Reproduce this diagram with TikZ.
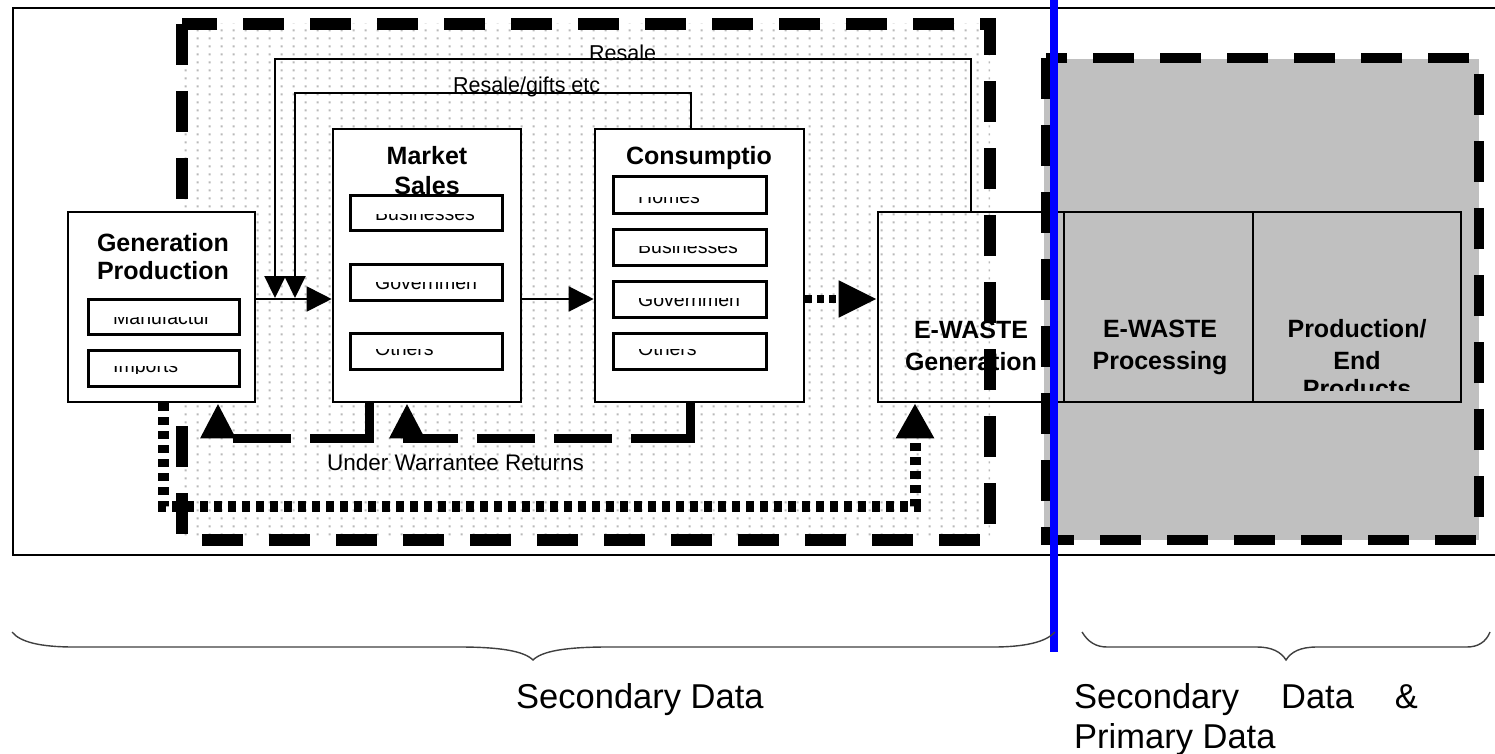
\documentclass[tikz,border=0pt]{standalone}
\usepackage{fontspec}
\setmainfont{Liberation Sans}
\usetikzlibrary{arrows.meta,patterns.meta}
\definecolor{graybg}{RGB}{192,192,192}
\tikzdeclarepattern{
  name=bgdots,
  type=uncolored,
  bounding box={(0pt,0pt) and (12pt,8pt)},
  tile size={(12pt,8pt)},
  code={\fill (5pt,3pt) rectangle (7.2pt,5.2pt);}
}
\begin{document}
\begin{tikzpicture}[x=1pt,y=-1pt,
  outerframe/.style={draw=black, line width=2.6pt},
  bigdash/.style={draw=black, line width=12pt, dash pattern=on 41pt off 26pt},
  box/.style={draw=black, line width=2.6pt, fill=white, inner sep=0pt},
  openbox/.style={draw=black, line width=2.6pt, inner sep=0pt},
  subbox/.style={draw=black, line width=3pt, fill=white, inner sep=0pt, minimum height=35pt},
  title/.style={font=\fontsize{25}{30}\selectfont\bfseries, inner sep=0pt, anchor=base},
  tinylbl/.style={font=\fontsize{19.5}{22}\selectfont, inner sep=0pt, anchor=base west},
  flowlabel/.style={font=\fontsize{21.5}{25}\selectfont, inner sep=0pt, anchor=base west},
  datalabel/.style={font=\fontsize{34.5}{40}\selectfont, inner sep=0pt, anchor=base west},
  thinconn/.style={draw=black, line width=1.8pt},
  dotconn/.style={draw=black, line width=8pt, dash pattern=on 7pt off 5pt},
  bigdotconn/.style={draw=black, line width=11pt, dash pattern=on 8pt off 6pt},
  dashconn/.style={draw=black, line width=9pt, dash pattern=on 94pt off 19pt on 58pt off 19pt on 58pt off 19pt on 58pt off 19pt},
  bracepath/.style={draw=black!75, line width=1.4pt},
]
\useasboundingbox (0,0) rectangle (1495,754);
\fill[white] (0,0) rectangle (1495,754);

% backgrounds
\path[pattern=bgdots, pattern color=gray!55] (182,24) rectangle (990,540);
\fill[graybg] (1044,59) rectangle (1479,540);
\draw[outerframe] (13,8) rectangle (1510,555);
\draw[bigdash] (182,24) -- (182,540) -- (990,540) -- (990,24) -- cycle;
\draw[bigdash, line width=10pt] (1046,58) -- (1046,540) -- (1479,540) -- (1479,58) -- cycle;

% main boxes
\node[box, minimum width=187pt, minimum height=190pt] (gen) at (161.5,307) {};
\node[box, minimum width=188pt, minimum height=273pt] (mkt) at (427,265.5) {};
\node[box, minimum width=209pt, minimum height=273pt] (con) at (699.5,265.5) {};
\node[openbox, minimum width=186pt, minimum height=190pt] (ewg) at (971,307) {};
\node[openbox, minimum width=189pt, minimum height=190pt] (proc) at (1158.5,307) {};
\node[openbox, minimum width=208pt, minimum height=190pt] (prod) at (1357,307) {};

% titles
\node[title] (tg1) at (163,251) {Generation};
\node[title] (tg2) at (163,279) {Production};
\node[title] (tm1) at (427,165) {Market};
\node[title] (tm2) at (427,194) {Sales};
\node[title] (tc1) at (699,165) {Consumptio};
\node[title] (te1) at (971,338) {E-WASTE};
\node[title] (te2) at (971,370) {Generation};
\node[title] (tp1) at (1160,337) {E-WASTE};
\node[title] (tp2) at (1160,369) {Processing};
\node[title] (tq1) at (1357,337) {Production/};
\node[title] (tq2) at (1357,369) {End};
\begin{scope}
\clip (1253,212) rectangle (1461,390);
\node[title] (tq3) at (1357,397) {Products};
\end{scope}

% sub boxes
\node[subbox, minimum width=151pt] (gs1) at (163.5,316.5) {};
\node[subbox, minimum width=151pt, minimum height=36pt] (gs2) at (163.5,368) {};
\node[subbox, minimum width=152pt] (ms1) at (426,212.5) {};
\node[subbox, minimum width=152pt, minimum height=36pt] (ms2) at (426,282) {};
\node[subbox, minimum width=152pt, minimum height=36pt] (ms3) at (426,351) {};
\node[subbox, minimum width=153pt, minimum height=36pt] (cs1) at (689.5,195) {};
\node[subbox, minimum width=153pt, minimum height=36pt] (cs2) at (689.5,247) {};
\node[subbox, minimum width=153pt, minimum height=36pt] (cs3) at (689.5,299) {};
\node[subbox, minimum width=153pt, minimum height=36pt] (cs4) at (689.5,351) {};

% clipped sub box labels
\begin{scope}\clip (90,317) rectangle (237,325);
\node[tinylbl] (lgs1) at (113,324) {Manufactur};\end{scope}
\begin{scope}\clip (90,366) rectangle (237,373);
\node[tinylbl] (lgs2) at (113,372) {Imports};\end{scope}
\begin{scope}\clip (352,214) rectangle (500,221);
\node[tinylbl] (lms1) at (375,220) {Businesses};\end{scope}
\begin{scope}\clip (352,282) rectangle (500,290);
\node[tinylbl] (lms2) at (375,289) {Governmen};\end{scope}
\begin{scope}\clip (352,349) rectangle (500,356);
\node[tinylbl] (lms3) at (375,355) {Others};\end{scope}
\begin{scope}\clip (615,197) rectangle (764,204);
\node[tinylbl] (lcs1) at (638,203) {Homes};\end{scope}
\begin{scope}\clip (615,246) rectangle (764,254);
\node[tinylbl] (lcs2) at (638,253) {Businesses};\end{scope}
\begin{scope}\clip (615,298) rectangle (764,307);
\node[tinylbl] (lcs3) at (638,306) {Governmen};\end{scope}
\begin{scope}\clip (615,349) rectangle (764,356);
\node[tinylbl] (lcs4) at (638,355) {Others};\end{scope}

% helper coordinates
\coordinate (yA) at (0,299);
\coordinate (r1) at (275,298);
\coordinate (r2) at (295,298);
\coordinate (xg) at (691,0);
\coordinate (xa) at (369,0);
\coordinate (xb) at (218,0);
\coordinate (xc) at (690,0);
\coordinate (xd) at (407,0);
\coordinate (xe) at (163,0);
\coordinate (xf) at (915,0);

% flow labels
\node[flowlabel] (lr) at (589,61) {Resale};
\node[flowlabel] (lrg) at (453,93) {Resale/gifts etc};
\node[flowlabel, font=\fontsize{22.5}{26}\selectfont] (luw) at (327,470) {Under Warrantee Returns};

% connectors
\draw[thinconn, -{Triangle[length=25pt,width=25pt]}] (gen.east |- yA) -- (mkt.west |- yA);
\draw[thinconn, -{Triangle[length=25pt,width=25pt]}] (mkt.east |- yA) -- (con.west |- yA);
\draw[dotconn, -{Triangle[length=38pt,width=35pt]}] (con.east |- yA) -- (ewg.west |- yA);
\draw[thinconn, line width=2pt, -{Triangle[length=22pt,width=21pt]}] (ewg.north) -- ++(0,-152) -| (r1);
\draw[thinconn, line width=2pt, -{Triangle[length=22pt,width=21pt]}] (con.north -| xg) -- ++(0,-35) -| (r2);
\draw[dashconn, -{Triangle[length=35pt,width=33pt]}] (mkt.south -| xa) -- ++(0,35) -| (gen.south -| xb);
\draw[dashconn, -{Triangle[length=35pt,width=33pt]}] (con.south -| xc) -- ++(0,35) -| (mkt.south -| xd);
\draw[bigdotconn, -{Triangle[length=35pt,width=36pt]}] (gen.south -| xe) -- ++(0,103) -| (ewg.south -| xf);

% blue divider
\draw[blue, line width=8pt] (1054,0) -- (1054,652);

% braces
\draw[bracepath] (12,632) .. controls (20,642) and (40,647) .. (74,647) -- (459,647)
  .. controls (500,647) and (524,651) .. (533,660) .. controls (542,651) and (566,647) .. (608,647)
  -- (993,647) .. controls (1025,647) and (1046,642) .. (1055,632);
\draw[bracepath] (1082,632) .. controls (1088,642) and (1096,647) .. (1107,647) -- (1257,647)
  .. controls (1272,647) and (1281,652) .. (1286,660) .. controls (1291,652) and (1300,647) .. (1317,647)
  -- (1467,647) .. controls (1478,647) and (1486,642) .. (1490,632);

% data labels
\node[datalabel] (ld1) at (516,708) {Secondary Data};
\node[datalabel] (ld2) at (1074,708) {Secondary\hspace{42pt}Data\hspace{41pt}\&};
\node[datalabel] (ld3) at (1074,748) {Primary Data};
\end{tikzpicture}
\end{document}
